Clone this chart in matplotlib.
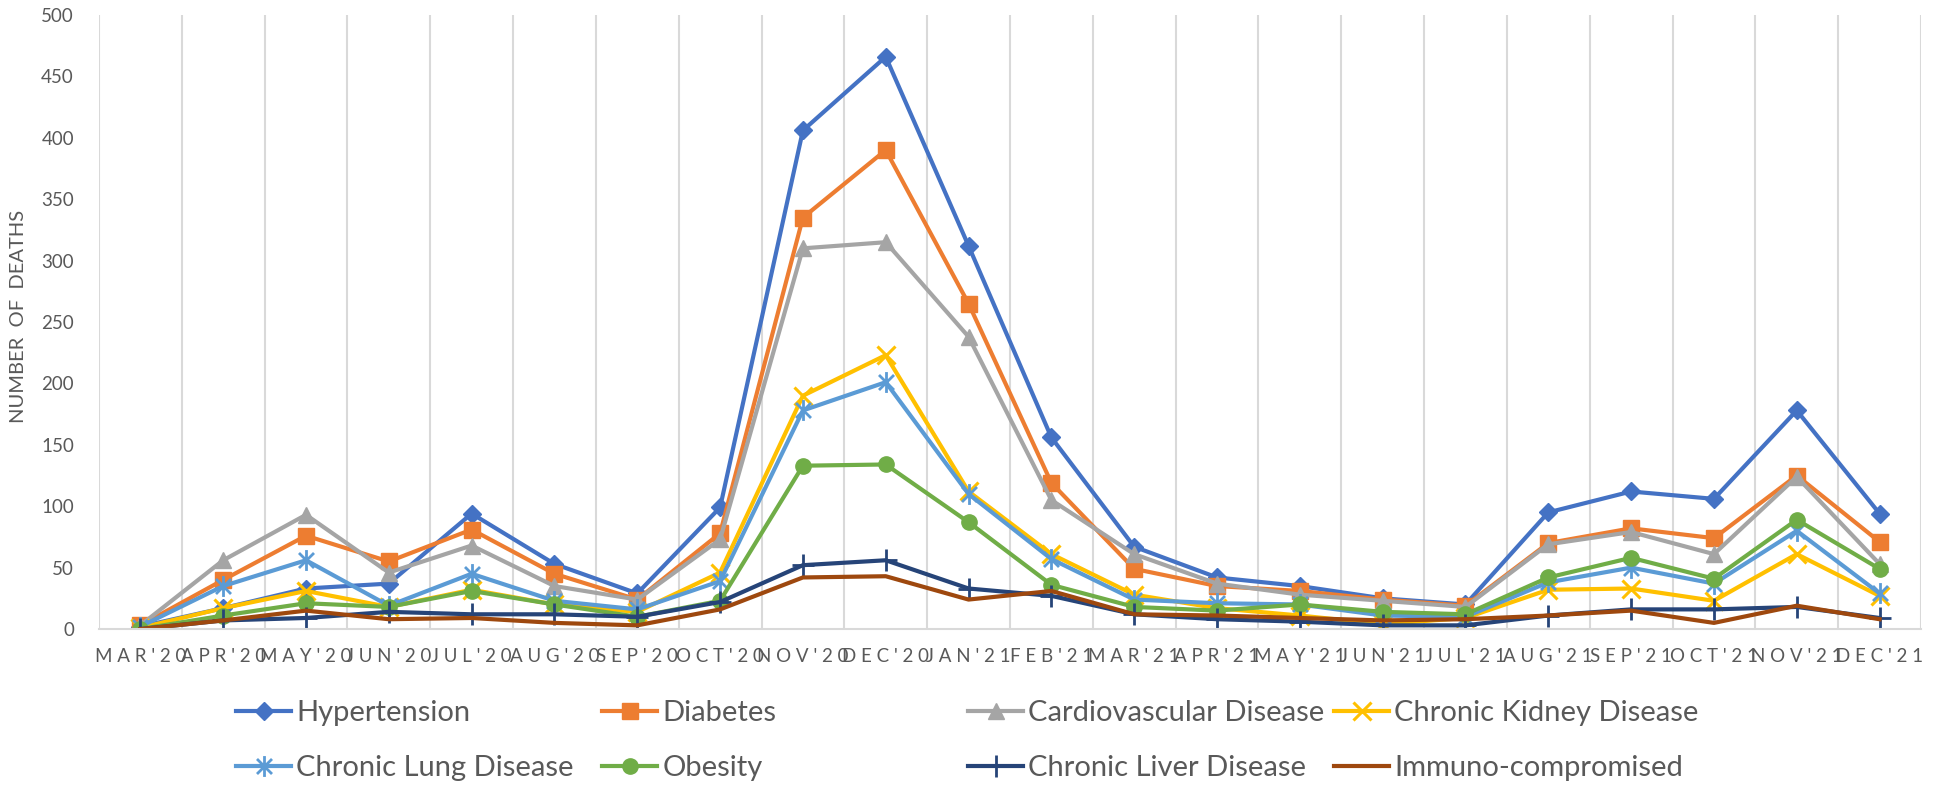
import matplotlib
matplotlib.use("Agg")
import matplotlib.pyplot as plt
from matplotlib.path import Path
import numpy as np

months = ["MAR'20", "APR'20", "MAY'20", "JUN'20", "JUL'20", "AUG'20", "SEP'20", "OCT'20",
          "NOV'20", "DEC'20", "JAN'21", "FEB'21", "MAR'21", "APR'21", "MAY'21", "JUN'21",
          "JUL'21", "AUG'21", "SEP'21", "OCT'21", "NOV'21", "DEC'21"]

hypertension = [2, 17, 33, 37, 94, 53, 29, 99, 406, 466, 312, 156, 67, 42, 35, 25, 20, 95, 112, 106, 178, 94]
diabetes = [3, 40, 76, 55, 81, 45, 24, 78, 335, 390, 265, 119, 49, 35, 31, 24, 19, 70, 82, 74, 125, 71]
cardiovascular = [3, 56, 93, 46, 68, 35, 24, 73, 310, 315, 238, 105, 61, 37, 28, 23, 18, 69, 79, 61, 124, 53]
kidney = [1, 17, 31, 18, 32, 20, 14, 46, 190, 223, 112, 61, 28, 17, 11, 4, 9, 32, 33, 23, 61, 27]
lung = [2, 35, 56, 19, 45, 23, 16, 39, 178, 201, 110, 57, 24, 21, 20, 11, 10, 38, 50, 37, 80, 29]
obesity = [0, 11, 21, 18, 31, 20, 10, 23, 133, 134, 87, 36, 18, 15, 20, 14, 12, 42, 58, 41, 89, 49]
liver = [0, 7, 9, 14, 12, 12, 10, 22, 52, 56, 33, 27, 12, 8, 6, 3, 3, 11, 16, 16, 18, 9]
immuno = [0, 7, 15, 8, 9, 5, 3, 16, 42, 43, 24, 31, 12, 11, 9, 7, 8, 11, 15, 5, 19, 8]

series_names = ["Hypertension", "Diabetes", "Cardiovascular Disease", "Chronic Kidney Disease",
                "Chronic Lung Disease", "Obesity", "Chronic Liver Disease", "Immuno-compromised"]
series_values = [hypertension, diabetes, cardiovascular, kidney, lung, obesity, liver, immuno]
colors = ["#4472C4", "#ED7D31", "#A5A5A5", "#FFC000", "#5B9BD5", "#70AD47", "#264478", "#9E480E"]

star = Path([(0, -1), (0, 1), (-0.72, -0.72), (0.72, 0.72), (-0.72, 0.72), (0.72, -0.72)],
            [Path.MOVETO, Path.LINETO, Path.MOVETO, Path.LINETO, Path.MOVETO, Path.LINETO])
marker_styles = [
    dict(marker="D", ms=9.5),
    dict(marker="s", ms=11),
    dict(marker="^", ms=12),
    dict(marker="x", ms=13, mew=2.2),
    dict(marker=star, ms=15, mew=2.0),
    dict(marker="o", ms=11),
    dict(marker="+", ms=16, mew=2.0),
    dict(marker=None),
]

TXT = "#595959"
GRID = "#D9D9D9"
FAM = ["Lato", "DejaVu Sans"]
plt.rcParams["font.family"] = FAM

fig = plt.figure(figsize=(19.4, 7.86), dpi=100)
ax = fig.add_axes([0.0510, 0.1997, 0.9392, 0.7812])

x = np.arange(len(months))
handles = []
for name, vals, c, ms in zip(series_names, series_values, colors, marker_styles):
    h, = ax.plot(x, vals, color=c, lw=3.0, mfc=c, mec=c, label=name,
                 solid_joinstyle="round", **ms)
    handles.append(h)

ax.set_xlim(-0.5, len(months) - 0.5)
ax.set_ylim(0, 500)
ax.set_yticks(np.arange(0, 501, 50))
ax.set_xticks(x)
ax.set_xticklabels([" ".join(m) for m in months], fontsize=13.5, color=TXT)
ax.tick_params(axis="y", labelsize=13.5, colors=TXT, length=0, pad=18)
ax.tick_params(axis="x", length=0, pad=14)
ax.set_xticks(np.arange(-0.5, len(months), 1), minor=True)
ax.tick_params(axis="x", which="minor", length=0)
ax.grid(axis="x", which="minor", color=GRID, lw=1.5)
ax.grid(axis="x", which="major", visible=False)
for s in ["left", "right", "top"]:
    ax.spines[s].set_visible(False)
ax.spines["bottom"].set_color(GRID)
ax.spines["bottom"].set_linewidth(1.5)
ax.set_axisbelow(True)

fig.text(0.0093, 0.597, "NUMBER  OF  DEATHS", rotation=90, ha="center", va="center",
         fontsize=14.5, color=TXT)

col_x = [236 / 1940, 602 / 1940, 968 / 1940, 1334 / 1940]
for i in range(4):
    hs = [handles[i], handles[i + 4]]
    fig.legend(handles=hs, labels=[h.get_label() for h in hs], loc="center left",
               bbox_to_anchor=(col_x[i], 0.0579), frameon=False, fontsize=21,
               handlelength=1.9, handletextpad=0.17, labelspacing=0.98, borderpad=0,
               borderaxespad=0, labelcolor=TXT)

fig.savefig("out.png", dpi=100, facecolor="white")
